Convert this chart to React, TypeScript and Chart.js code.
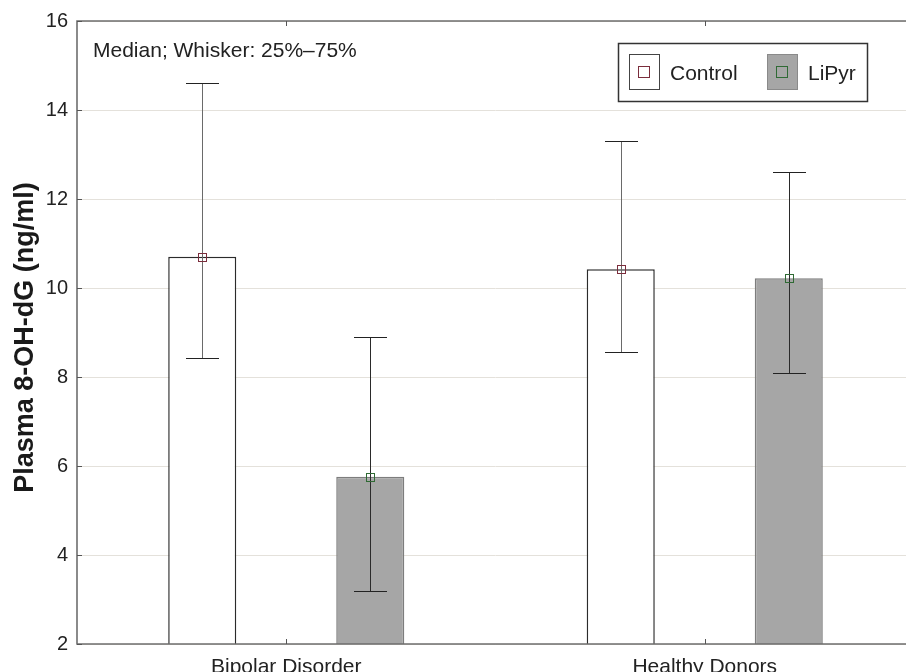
import { useEffect, useRef } from 'react';
import { Chart, registerables } from 'chart.js';

Chart.register(...registerables);

const categories = ['Bipolar Disorder', 'Healthy Donors'];
const seriesNames = ['Control', 'LiPyr'];
const controlMedian = [10.7, 10.42];
const controlQ1 = [8.42, 8.56];
const controlQ3 = [14.6, 13.3];
const lipyrMedian = [5.76, 10.22];
const lipyrQ1 = [3.18, 8.08];
const lipyrQ3 = [8.89, 12.61];
const yTicks = [2, 4, 6, 8, 10, 12, 14, 16];
const annotation = 'Median; Whisker: 25%–75%';
const yTitle = 'Plasma 8-OH-dG (ng/ml)';

const FONT = '"Liberation Sans", Arial, Helvetica, sans-serif';

export default function App() {
  const ref = useRef<HTMLCanvasElement>(null);

  useEffect(() => {
    if (!ref.current) return;
    const medians = [controlMedian, lipyrMedian];
    const q1s = [controlQ1, lipyrQ1];
    const q3s = [controlQ3, lipyrQ3];
    const markerColors = ['#7b2d3c', '#2f6a34'];
    const barFills = ['#ffffff', '#a6a6a6'];
    const barBorders = ['#2b2b2b', '#7d7d7d'];
    const whiskerColors = ['#6a6a6a', '#2a2a2a'];

    const overlay = {
      id: 'overlay',
      afterDatasetsDraw(chart: any) {
        const ctx = chart.ctx as CanvasRenderingContext2D;
        const { left, right, top, bottom } = chart.chartArea;
        const ys = chart.scales.y;
        const xs = chart.scales.x;
        ctx.save();

        // whiskers + median markers
        for (let i = 0; i < 2; i++) {
          const meta = chart.getDatasetMeta(i);
          meta.data.forEach((bar: any, j: number) => {
            const cx = Math.round(bar.x) + 0.5;
            const yh = Math.round(ys.getPixelForValue(q3s[i][j])) + 0.5;
            const yl = Math.round(ys.getPixelForValue(q1s[i][j])) + 0.5;
            ctx.lineWidth = 1;
            ctx.strokeStyle = whiskerColors[i];
            ctx.beginPath();
            ctx.moveTo(cx, yh);
            ctx.lineTo(cx, yl);
            ctx.stroke();
            ctx.strokeStyle = '#222';
            ctx.beginPath();
            ctx.moveTo(cx - 16.5, yh);
            ctx.lineTo(cx + 16.5, yh);
            ctx.moveTo(cx - 16.5, yl);
            ctx.lineTo(cx + 16.5, yl);
            ctx.stroke();
            const ym = Math.round(ys.getPixelForValue(medians[i][j])) + 0.5;
            ctx.strokeStyle = markerColors[i];
            ctx.strokeRect(cx - 4, ym - 4, 8, 8);
          });
        }

        // frame
        ctx.strokeStyle = '#6e6e6e';
        ctx.lineWidth = 1.6;
        ctx.beginPath();
        ctx.moveTo(right + 10, top);
        ctx.lineTo(left, top);
        ctx.lineTo(left, bottom);
        ctx.lineTo(right + 10, bottom);
        ctx.stroke();

        // inner tick marks
        ctx.strokeStyle = '#555';
        ctx.lineWidth = 1;
        ctx.beginPath();
        ys.ticks.forEach((t: any) => {
          const py = Math.round(ys.getPixelForValue(t.value)) + 0.5;
          ctx.moveTo(left, py);
          ctx.lineTo(left + 5, py);
        });
        categories.forEach((_, i) => {
          const px = Math.round(xs.getPixelForValue(i)) + 0.5;
          ctx.moveTo(px, bottom);
          ctx.lineTo(px, bottom - 5);
          ctx.moveTo(px, top);
          ctx.lineTo(px, top + 5);
        });
        ctx.stroke();

        // annotation
        ctx.fillStyle = '#222';
        ctx.font = `21px ${FONT}`;
        ctx.textAlign = 'left';
        ctx.textBaseline = 'alphabetic';
        ctx.fillText(annotation, left + 16, top + 36);

        // y title
        ctx.save();
        ctx.translate(33, (top + bottom) / 2 + 5);
        ctx.rotate(-Math.PI / 2);
        ctx.textAlign = 'center';
        ctx.textBaseline = 'alphabetic';
        ctx.font = `bold 27px ${FONT}`;
        ctx.fillStyle = '#1a1a1a';
        ctx.fillText(yTitle, 0, 0);
        ctx.restore();

        // legend
        const lx = 618.5, ly = 43.5, lw = 249, lh = 58;
        ctx.fillStyle = '#ffffff';
        ctx.fillRect(lx, ly, lw, lh);
        ctx.strokeStyle = '#333';
        ctx.lineWidth = 1.5;
        ctx.strokeRect(lx, ly, lw, lh);
        const iconX = [629.5, 767.5];
        const textX = [670, 808];
        seriesNames.forEach((name, i) => {
          ctx.fillStyle = barFills[i];
          ctx.fillRect(iconX[i], 54.5, 30, 35);
          ctx.strokeStyle = i === 0 ? '#444' : '#8a8a8a';
          ctx.lineWidth = 1;
          ctx.strokeRect(iconX[i], 54.5, 30, 35);
          ctx.strokeStyle = markerColors[i];
          ctx.strokeRect(iconX[i] + 9, 66.5, 11, 11);
          ctx.fillStyle = '#222';
          ctx.font = `21px ${FONT}`;
          ctx.textAlign = 'left';
          ctx.textBaseline = 'alphabetic';
          ctx.fillText(name, textX[i], 80);
        });

        ctx.restore();
      },
    };

    const chart = new Chart(ref.current, {
      type: 'bar',
      data: {
        labels: categories,
        datasets: [
          {
            label: seriesNames[0],
            data: controlMedian,
            backgroundColor: barFills[0],
            borderColor: barBorders[0],
            borderWidth: 1.5,
            borderSkipped: false,
            categoryPercentage: 0.803,
            barPercentage: 0.405,
          },
          {
            label: seriesNames[1],
            data: lipyrMedian,
            backgroundColor: barFills[1],
            borderColor: barBorders[1],
            borderWidth: 1.5,
            borderSkipped: false,
            categoryPercentage: 0.803,
            barPercentage: 0.405,
          },
        ],
      },
      options: {
        animation: false,
        responsive: true,
        maintainAspectRatio: false,
        layout: { padding: { top: 21, right: 6, left: 0, bottom: 0 } },
        plugins: {
          legend: { display: false },
          tooltip: { enabled: false },
        },
        scales: {
          x: {
            grid: { display: false, drawTicks: false },
            border: { display: false },
            ticks: {
              font: { family: FONT, size: 21 },
              color: '#222',
              padding: 11,
              maxRotation: 0,
            },
            afterFit: (s: any) => {
              s.height = 28;
            },
          },
          y: {
            min: 2,
            max: 16,
            afterBuildTicks: (s: any) => {
              s.ticks = yTicks.map((v) => ({ value: v }));
            },
            grid: { color: '#e4e1db', drawTicks: false, lineWidth: 1 },
            border: { display: false },
            ticks: {
              font: { family: FONT, size: 20 },
              color: '#222',
              padding: 9,
            },
            afterFit: (s: any) => {
              s.width = 77;
            },
          },
        },
      },
      plugins: [overlay],
    } as any);

    return () => chart.destroy();
  }, []);

  return (
    <div
      style={{
        position: 'fixed',
        left: 0,
        top: 0,
        width: 906,
        height: 672,
        overflow: 'hidden',
        background: '#fff',
      }}
    >
      <div style={{ position: 'relative', width: 920, height: 672 }}>
        <canvas ref={ref} />
      </div>
    </div>
  );
}
